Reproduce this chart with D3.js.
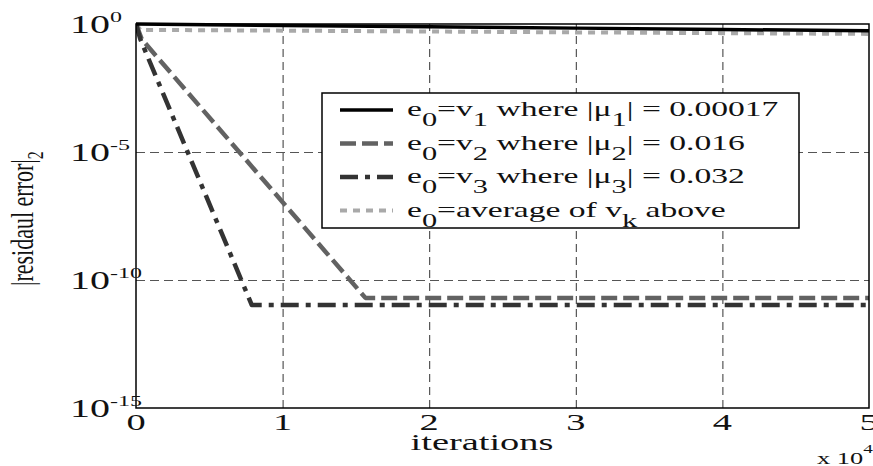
<!DOCTYPE html>
<html>
<head>
<meta charset="utf-8">
<script src="https://cdn.jsdelivr.net/npm/d3@7"></script>
<style>
  body { margin: 0; background: #fff; }
  svg text { font-family: "Liberation Serif", Tinos, "Times New Roman", Times, serif; fill: #111; white-space: pre; }
</style>
</head>
<body>
<script>
// ticks
var xTicks = [0, 1, 2, 3, 4, 5];          // x 10^4 iterations
var yExps = [0, -5, -10, -15];            // powers of ten

// series (iterations, residual error)
var iterV1 = [0, 10000, 20000, 30000, 40000, 50000];
var errV1 = [1, 0.88, 0.78, 0.69, 0.61, 0.54];
var iterV2 = [0, 400, 15650, 50000];
var errV2 = [1, 0.25, 2.0e-11, 2.0e-11];
var iterV3 = [0, 300, 7900, 50000];
var errV3 = [1, 0.25, 1.05e-11, 1.05e-11];
var iterAvg = [0, 300, 10000, 20000, 30000, 40000, 50000];
var errAvg = [1, 0.59, 0.55, 0.51, 0.47, 0.44, 0.41];

var legendLabels = [
  "e_0=v_1 where |μ_1| = 0.00017",
  "e_0=v_2 where |μ_2| = 0.016",
  "e_0=v_3 where |μ_3| = 0.032",
  "e_0=average of v_k above"
];

var W = 873, H = 466;
var margin = {top: 24, right: 4, bottom: 58, left: 136},
    width = W - margin.left - margin.right,
    height = H - margin.top - margin.bottom;
var SX = 1.6; // text is stretched horizontally in the original

var svg = d3.select("body").append("svg")
    .attr("width", W).attr("height", H);

var x = d3.scaleLinear().domain([0, 50000]).range([margin.left, margin.left + width]);
var y = d3.scaleLog().domain([1e-15, 1]).range([margin.top + height, margin.top]);

// grid
svg.append("g")
    .attr("transform", "translate(0," + (margin.top + height) + ")")
    .call(d3.axisBottom(x).tickValues(xTicks.slice(1, -1).map(d => d * 1e4)).tickSize(-height).tickFormat(""))
    .call(g => g.select(".domain").remove())
    .selectAll("line").attr("stroke", "#333").attr("stroke-dasharray", "8,5");
svg.append("g")
    .attr("transform", "translate(" + margin.left + ",0)")
    .call(d3.axisLeft(y).tickValues(yExps.slice(1, -1).map(e => Math.pow(10, e))).tickSize(-width).tickFormat(""))
    .call(g => g.select(".domain").remove())
    .selectAll("line").attr("stroke", "#555").attr("stroke-dasharray", "9,5");

// series lines
svg.append("clipPath").attr("id", "clip").append("rect")
    .attr("x", margin.left).attr("y", margin.top - 4).attr("width", width).attr("height", height + 4);

var series = [
  {it: iterAvg, err: errAvg, color: "#a9a9a9", w: 4, dash: "7,6"},
  {it: iterV2, err: errV2, color: "#626262", w: 4.5, dash: "16,6"},
  {it: iterV3, err: errV3, color: "#333333", w: 4.5, dash: "18,7,5,7"},
  {it: iterV1, err: errV1, color: "#000000", w: 3.5, dash: null}
];
var line = d3.line().x(d => x(d[0])).y(d => y(d[1]));

svg.append("g").attr("clip-path", "url(#clip)")
  .selectAll("path").data(series).enter().append("path")
    .attr("d", s => line(d3.zip(s.it, s.err)))
    .attr("fill", "none")
    .attr("stroke", s => s.color)
    .attr("stroke-width", s => s.w)
    .attr("stroke-linejoin", "round")
    .attr("stroke-dasharray", s => s.dash);

// frame
svg.append("rect")
    .attr("x", margin.left).attr("y", margin.top)
    .attr("width", width).attr("height", height)
    .attr("fill", "none").attr("stroke", "#000").attr("stroke-width", 1.5);

// helper for stretched text with sub/superscripts
function addText(parent, px, py, parts, size) {
  var t = parent.append("text")
      .attr("transform", "translate(" + px + "," + py + ") scale(" + SX + ",1)")
      .style("font-size", size + "px");
  parts.forEach(p => {
    t.append("tspan")
      .attr("dy", p.dy || 0)
      .style("font-size", (p.size || size) + "px")
      .text(p.t);
  });
  return t;
}

// y tick labels
yExps.forEach(e => {
  addText(svg, 70, y(Math.pow(10, e)) + 8.5,
    [{t: "10"}, {t: String(e), size: 15, dy: -11}], 25);
});

// x tick labels
xTicks.forEach(v => {
  addText(svg, x(v * 1e4), 430, [{t: String(v)}], 24).attr("text-anchor", "middle");
});

addText(svg, 482, 450, [{t: "iterations"}], 24).attr("text-anchor", "middle");
addText(svg, 817, 464, [{t: "x 10"}, {t: "4", size: 12, dy: -11}], 16.5);

// y label (rotated)
var yl = svg.append("text")
    .attr("transform", "translate(33,286) rotate(-90) scale(1,1.45)")
    .style("font-size", "22px");
yl.append("tspan").text("|residaul error|");
yl.append("tspan").attr("dy", 7).style("font-size", "16px").text("2");

// legend
var lg = svg.append("g");
lg.append("rect")
    .attr("x", 322).attr("y", 93).attr("width", 477).attr("height", 135)
    .attr("fill", "#fff").attr("stroke", "#000").attr("stroke-width", 1.5);

var legendOrder = [series[3], series[1], series[2], series[0]];
legendLabels.forEach((lab, i) => {
  var cy = 110 + i * 33.5;
  var s = legendOrder[i];
  lg.append("line")
      .attr("x1", 340).attr("x2", 393).attr("y1", cy).attr("y2", cy)
      .attr("stroke", s.color).attr("stroke-width", s.w)
      .attr("stroke-dasharray", s.dash);
  var parts = [];
  lab.split(/_(\w)/).forEach((seg, j) => {
    if (j % 2 === 1) parts.push({t: seg, size: 19, dy: 10});
    else if (seg.length) parts.push({t: seg, dy: j > 0 ? -10 : 0});
  });
  addText(lg, 407, cy + 6, parts, 21);
});
</script>
</body>
</html>
